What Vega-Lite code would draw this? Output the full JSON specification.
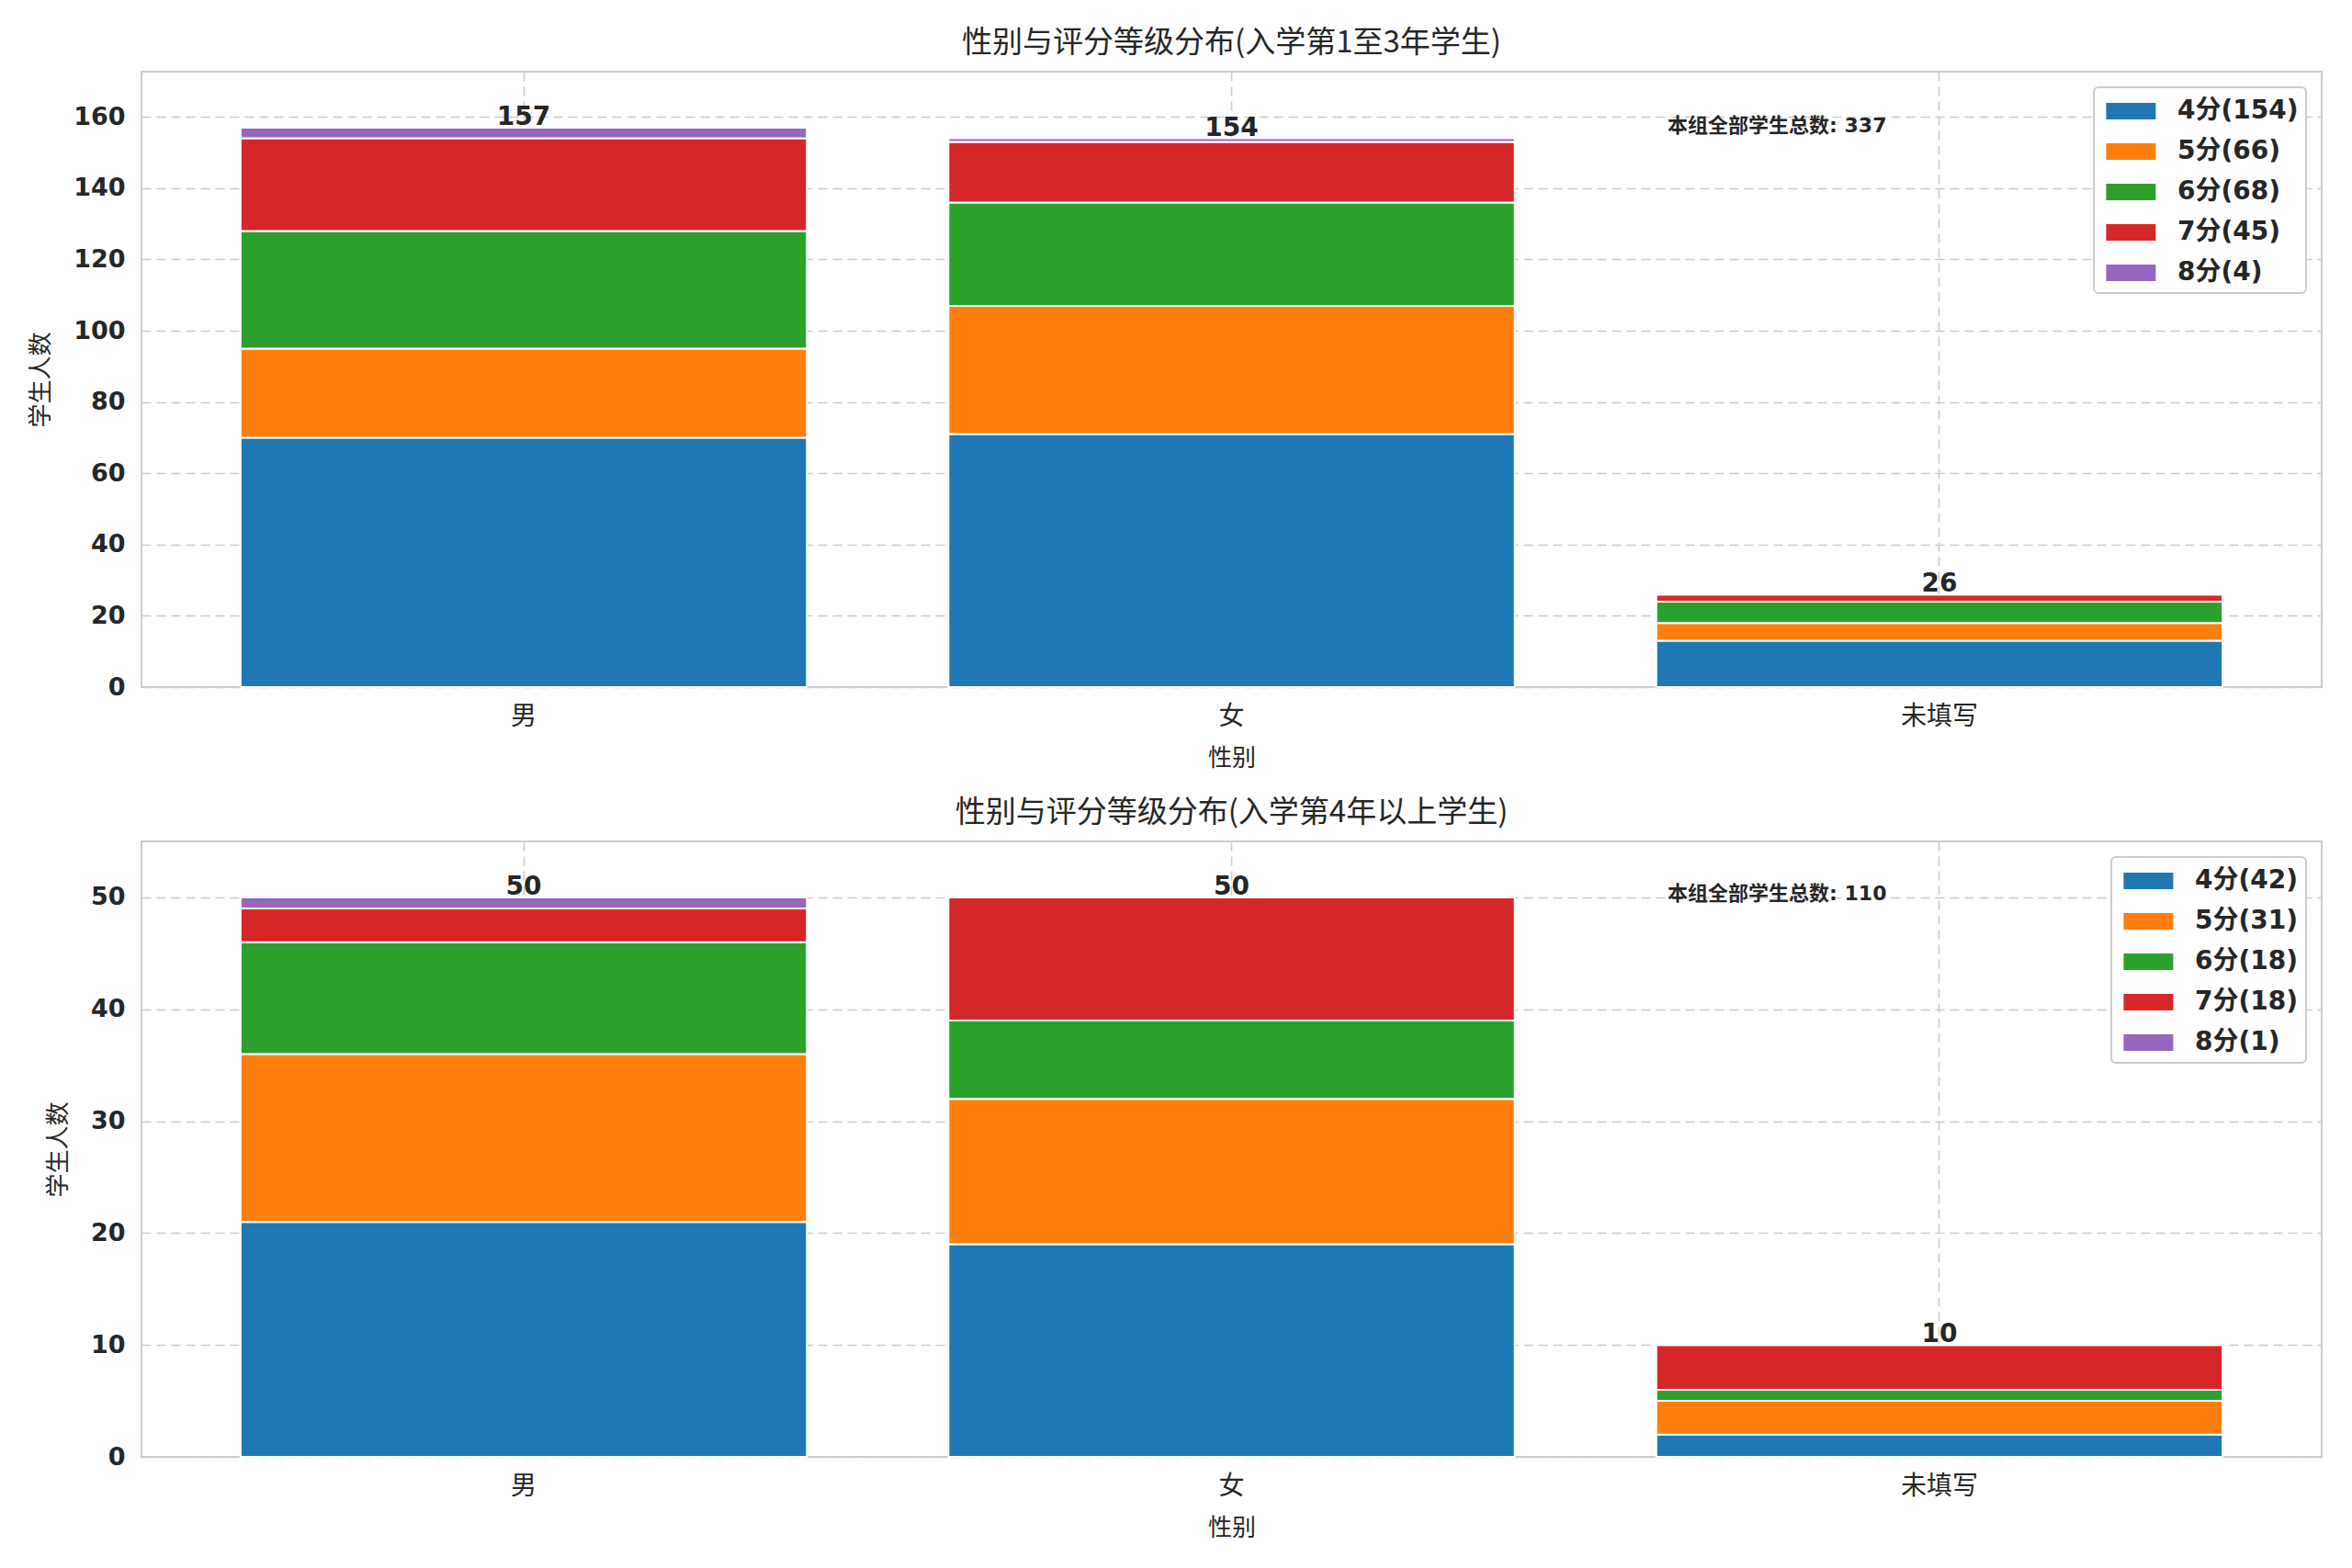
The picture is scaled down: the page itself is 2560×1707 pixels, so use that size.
{
  "$schema": "https://vega.github.io/schema/vega-lite/v6.json",
  "background": "white",
  "padding": {"left": 30, "top": 30, "right": 30, "bottom": 20},
  "spacing": 29,
  "datasets": {
    "a": [
      {"sex": "男", "lvl": 4, "label": "4分(154)", "n": 70},
      {"sex": "男", "lvl": 5, "label": "5分(66)", "n": 25},
      {"sex": "男", "lvl": 6, "label": "6分(68)", "n": 33},
      {"sex": "男", "lvl": 7, "label": "7分(45)", "n": 26},
      {"sex": "男", "lvl": 8, "label": "8分(4)", "n": 3},
      {"sex": "女", "lvl": 4, "label": "4分(154)", "n": 71},
      {"sex": "女", "lvl": 5, "label": "5分(66)", "n": 36},
      {"sex": "女", "lvl": 6, "label": "6分(68)", "n": 29},
      {"sex": "女", "lvl": 7, "label": "7分(45)", "n": 17},
      {"sex": "女", "lvl": 8, "label": "8分(4)", "n": 1},
      {"sex": "未填写", "lvl": 4, "label": "4分(154)", "n": 13},
      {"sex": "未填写", "lvl": 5, "label": "5分(66)", "n": 5},
      {"sex": "未填写", "lvl": 6, "label": "6分(68)", "n": 6},
      {"sex": "未填写", "lvl": 7, "label": "7分(45)", "n": 2},
      {"sex": "未填写", "lvl": 8, "label": "8分(4)", "n": 0}
    ],
    "b": [
      {"sex": "男", "lvl": 4, "label": "4分(42)", "n": 21},
      {"sex": "男", "lvl": 5, "label": "5分(31)", "n": 15},
      {"sex": "男", "lvl": 6, "label": "6分(18)", "n": 10},
      {"sex": "男", "lvl": 7, "label": "7分(18)", "n": 3},
      {"sex": "男", "lvl": 8, "label": "8分(1)", "n": 1},
      {"sex": "女", "lvl": 4, "label": "4分(42)", "n": 19},
      {"sex": "女", "lvl": 5, "label": "5分(31)", "n": 13},
      {"sex": "女", "lvl": 6, "label": "6分(18)", "n": 7},
      {"sex": "女", "lvl": 7, "label": "7分(18)", "n": 11},
      {"sex": "女", "lvl": 8, "label": "8分(1)", "n": 0},
      {"sex": "未填写", "lvl": 4, "label": "4分(42)", "n": 2},
      {"sex": "未填写", "lvl": 5, "label": "5分(31)", "n": 3},
      {"sex": "未填写", "lvl": 6, "label": "6分(18)", "n": 1},
      {"sex": "未填写", "lvl": 7, "label": "7分(18)", "n": 4},
      {"sex": "未填写", "lvl": 8, "label": "8分(1)", "n": 0}
    ]
  },
  "config": {
    "font": "DejaVu Sans, Noto Sans CJK SC",
    "view": {"stroke": "#cccccc", "strokeWidth": 2},
    "axis": {
      "domain": false, "ticks": false, "grid": true,
      "gridColor": "#cccccc", "gridDash": [10, 6], "gridWidth": 1.6,
      "labelFontSize": 27, "labelColor": "#262626",
      "titleFontSize": 26, "titleColor": "#262626", "titleFontWeight": "normal",
      "titleFont": "Noto Sans CJK SC"
    },
    "title": {"fontSize": 33, "font": "Noto Sans CJK SC", "fontWeight": "normal", "color": "#262626", "offset": 14},
    "legend": {
      "orient": "top-right", "offset": 17, "padding": 8,
      "fillColor": "white", "strokeColor": "#cccccc", "strokeWidth": 2, "cornerRadius": 5,
      "labelFontSize": 28, "labelFontWeight": "bold", "labelColor": "#262626",
      "labelFont": "DejaVu Sans, Noto Sans CJK SC",
      "symbolType": "M-0.7,-0.5H2.3V0.5H-0.7Z", "symbolSize": 1296,
      "symbolStrokeWidth": 0, "symbolOpacity": 1,
      "labelOffset": 47, "rowPadding": 12
    }
  },
  "resolve": {"scale": {"color": "independent", "y": "independent"}},
  "vconcat": [
    {
      "width": 2373, "height": 670,
      "title": "性别与评分等级分布(入学第1至3年学生)",
      "data": {"name": "a"},
      "encoding": {
        "x": {"field": "sex", "type": "nominal", "sort": ["男", "女", "未填写"],
          "scale": {"paddingInner": 0.2, "paddingOuter": 0.14},
          "axis": {"title": "性别", "labelAngle": 0, "labelFont": "Noto Sans CJK SC", "labelFontSize": 28,
            "labelPadding": 18, "titlePadding": 18, "bandPosition": 0.5}}
      },
      "layer": [
        {
          "mark": {"type": "bar", "stroke": "white", "strokeWidth": 2},
          "encoding": {
            "y": {"field": "n", "type": "quantitative", "stack": "zero",
              "scale": {"domain": [0, 172.7], "nice": false},
              "axis": {"title": "学生人数", "values": [0, 20, 40, 60, 80, 100, 120, 140, 160],
                "labelFontWeight": "bold", "labelPadding": 18, "titlePadding": 22}},
            "color": {"field": "label", "type": "nominal",
              "scale": {"range": ["#1f77b4", "#ff7f0e", "#2ca02c", "#d62728", "#9467bd"]},
              "legend": {"title": null}},
            "order": {"field": "lvl", "type": "quantitative"}
          }
        },
        {
          "transform": [{"aggregate": [{"op": "sum", "field": "n", "as": "total"}], "groupby": ["sex"]}],
          "mark": {"type": "text", "fontWeight": "bold", "fontSize": 28, "baseline": "bottom", "dy": 3, "color": "#262626"},
          "encoding": {
            "y": {"field": "total", "type": "quantitative"},
            "text": {"field": "total", "type": "quantitative"}
          }
        },
        {
          "data": {"values": [{"t": "本组全部学生总数: 337"}]},
          "mark": {"type": "text", "align": "left", "baseline": "middle", "fontSize": 22, "fontWeight": "bold", "color": "#262626"},
          "encoding": {
            "x": {"datum": "女", "bandPosition": 1.27},
            "y": {"datum": 157.5},
            "text": {"field": "t", "type": "nominal"}
          }
        }
      ]
    },
    {
      "width": 2373, "height": 670,
      "title": "性别与评分等级分布(入学第4年以上学生)",
      "data": {"name": "b"},
      "encoding": {
        "x": {"field": "sex", "type": "nominal", "sort": ["男", "女", "未填写"],
          "scale": {"paddingInner": 0.2, "paddingOuter": 0.14},
          "axis": {"title": "性别", "labelAngle": 0, "labelFont": "Noto Sans CJK SC", "labelFontSize": 28,
            "labelPadding": 18, "titlePadding": 18, "bandPosition": 0.5}}
      },
      "layer": [
        {
          "mark": {"type": "bar", "stroke": "white", "strokeWidth": 2},
          "encoding": {
            "y": {"field": "n", "type": "quantitative", "stack": "zero",
              "scale": {"domain": [0, 55], "nice": false},
              "axis": {"title": "学生人数", "values": [0, 10, 20, 30, 40, 50],
                "labelFontWeight": "bold", "labelPadding": 18, "titlePadding": 22}},
            "color": {"field": "label", "type": "nominal",
              "scale": {"range": ["#1f77b4", "#ff7f0e", "#2ca02c", "#d62728", "#9467bd"]},
              "legend": {"title": null}},
            "order": {"field": "lvl", "type": "quantitative"}
          }
        },
        {
          "transform": [{"aggregate": [{"op": "sum", "field": "n", "as": "total"}], "groupby": ["sex"]}],
          "mark": {"type": "text", "fontWeight": "bold", "fontSize": 28, "baseline": "bottom", "dy": 3, "color": "#262626"},
          "encoding": {
            "y": {"field": "total", "type": "quantitative"},
            "text": {"field": "total", "type": "quantitative"}
          }
        },
        {
          "data": {"values": [{"t": "本组全部学生总数: 110"}]},
          "mark": {"type": "text", "align": "left", "baseline": "middle", "fontSize": 22, "fontWeight": "bold", "color": "#262626"},
          "encoding": {
            "x": {"datum": "女", "bandPosition": 1.27},
            "y": {"datum": 50.3},
            "text": {"field": "t", "type": "nominal"}
          }
        }
      ]
    }
  ]
}
